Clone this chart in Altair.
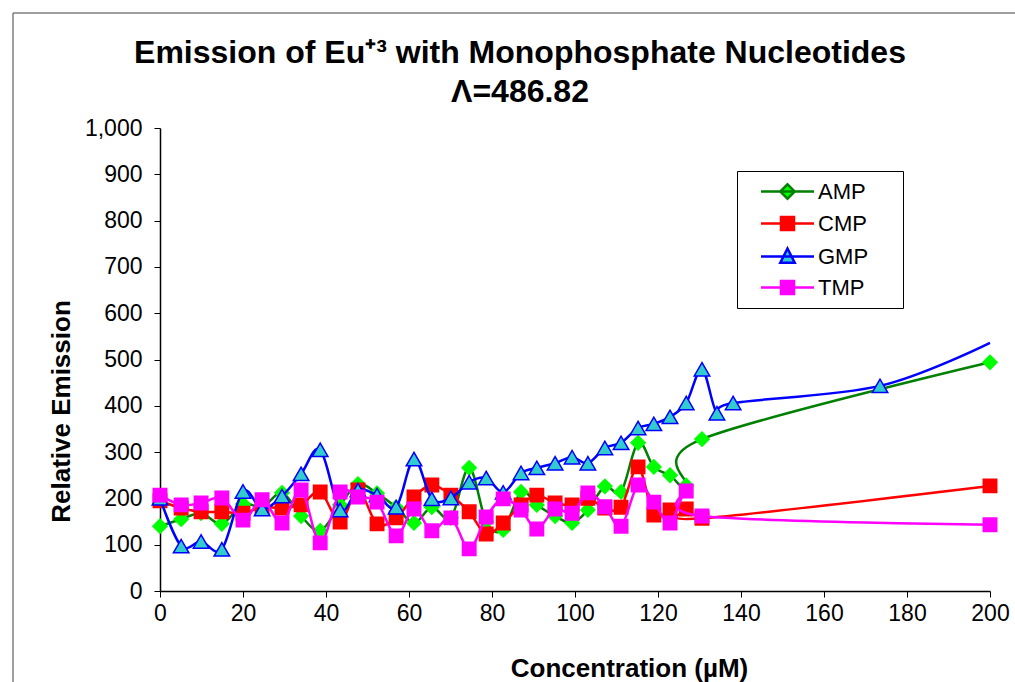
import altair as alt
import pandas as pd

# Concentration (uM) of each measurement
conc = [0, 5.1, 9.9, 14.9, 20.0, 24.6, 29.4, 34.0, 38.6, 43.4, 47.7, 52.3, 56.9, 61.2,
        65.5, 70.1, 74.5, 78.6, 82.7, 87.0, 90.8, 95.2, 99.3, 103.1, 107.2, 111.1, 115.2,
        119.0, 122.9, 126.8, 130.6, 134.2, 138.1, 173.5, 200.0]

amp = [140, 155, 168, 145, 188, 181, 212, 162, 130, 186, 231, 211, 181, 147,
       181, 158, 266, 150, 132, 214, 186, 162, 147, 175, 226, 214, 320,
       268, 250, 228, 328, None, None, None, 494]
cmp_ = [195, 179, 171, 171, 168, 181, 179, 186, 214, 149, 218, 145, 158, 203,
        229, 207, 171, 123, 147, 186, 207, 190, 186, 200, 179, 181, 268,
        164, 175, 177, 157, None, None, None, 227]
gmp = [200, 97, 107, 90, 215, 177, 205, 253, 305, 175, 218, 207, 181, 285,
       199, 201, 235, 244, 213, 255, 266, 276, 289, 276, 309, 320, 352,
       361, 376, 406, 479, 384, 406, 443, 536]
tmp = [207, 186, 190, 201, 153, 197, 147, 218, 104, 214, 203, 192, 119, 177,
       130, 158, 91, 160, 199, 175, 134, 177, 168, 212, 182, 140, 229,
       192, 147, 216, 162, None, None, None, 143]
# GMP's last value carries a line but no marker in the original
gmp_marker = [True] * 34 + [False]

x_ticks = list(range(0, 201, 20))
y_ticks = list(range(0, 1001, 100))

series_names = ["AMP", "CMP", "GMP", "TMP"]
line_colors = ["#008000", "#FF0000", "#0000FF", "#FF00FF"]
fill_colors = ["#00FF00", "#FF0000", "#33CCCC", "#FF00FF"]
marker_strokes = ["#00FF00", "#FF0000", "#0000FF", "#FF00FF"]
shapes = ["diamond", "square", "triangle-up", "square"]
sizes = [200, 180, 240, 180]
# legend symbols: line segment with the series marker in its middle (unit = 10 px)
legend_paths = [
    "M-2.65,0L2.65,0M0,-0.72L0.72,0L0,0.72L-0.72,0Z",
    "M-2.65,0L2.65,0M-0.65,-0.65L0.65,-0.65L0.65,0.65L-0.65,0.65Z",
    "M-2.65,0L2.65,0M0,-0.8L0.72,0.62L-0.72,0.62Z",
    "M-2.65,0L2.65,0M-0.65,-0.65L0.65,-0.65L0.65,0.65L-0.65,0.65Z",
]

rows = []
for name, vals in zip(series_names, [amp, cmp_, gmp, tmp]):
    for i, (c, v) in enumerate(zip(conc, vals)):
        if v is None:
            continue
        mk = gmp_marker[i] if name == "GMP" else True
        rows.append({"conc": c, "value": v, "series": name, "marker": mk})
df = pd.DataFrame(rows)

FONT = "Liberation Sans"

x_enc = alt.X("conc:Q", title="Concentration (µM)",
              scale=alt.Scale(domain=[0, 200], nice=False),
              axis=alt.Axis(values=x_ticks, grid=False, labelFlush=False,
                            titleX=469, titleAlign="center"))
y_enc = alt.Y("value:Q", title="Relative Emission",
              scale=alt.Scale(domain=[0, 1000], nice=False),
              axis=alt.Axis(values=y_ticks, labelExpr="format(datum.value, ',')", grid=False,
                            labelFlush=False, titleY=283, titleAlign="center"))

base = alt.Chart(df)
layers = []
for name, lc, fc, sc, shp, sz in zip(series_names, line_colors, fill_colors,
                                     marker_strokes, shapes, sizes):
    sub = base.transform_filter(alt.datum.series == name)
    layers.append(
        sub.mark_line(interpolate="cardinal", strokeWidth=2.5, color=lc)
        .encode(x=x_enc, y=y_enc, order="conc:Q")
    )
    layers.append(
        sub.transform_filter(alt.datum.marker)
        .mark_point(filled=True, shape=shp, size=sz, fill=fc, stroke=sc,
                    strokeWidth=1.5, opacity=1)
        .encode(x=x_enc, y=y_enc)
    )

legend_layer = (
    base.transform_filter("false")
    .mark_point(filled=True, opacity=1)
    .encode(
        x=x_enc, y=y_enc,
        shape=alt.Shape("series:N",
                        scale=alt.Scale(domain=series_names, range=legend_paths),
                        legend=alt.Legend(
                            title="\u00a0", titleOrient="right", titlePadding=26,
                            titleFontSize=10,
                            orient="none", legendX=577, legendY=43,
                            fillColor="white", strokeColor="black", padding=9,
                            symbolSize=400, symbolStrokeWidth=2.5, symbolOffset=30,
                            labelFont=FONT, labelFontSize=22, labelColor="black",
                            labelOffset=19, rowPadding=8)),
        fill=alt.Fill("series:N", scale=alt.Scale(domain=series_names, range=fill_colors)),
        stroke=alt.Stroke("series:N", scale=alt.Scale(domain=series_names, range=line_colors)),
    )
)

# outer frame of the chart area (top and left edges visible in the original)
one = alt.Chart(pd.DataFrame({"k": [0]}))
frame_top = one.mark_rule(color="#7f7f7f", strokeWidth=1.5).encode(
    x=alt.value(-147), x2=alt.value(880), y=alt.value(-115))
frame_left = one.mark_rule(color="#7f7f7f", strokeWidth=1.5).encode(
    x=alt.value(-147), y=alt.value(-115), y2=alt.value(560))

chart = (
    alt.layer(frame_top, frame_left, *layers, legend_layer)
    .properties(
        width=830, height=463,
        background="white",
        autosize=alt.AutoSizeParams(type="none"),
        padding={"left": 160, "top": 128, "right": 25, "bottom": 91},
        title=alt.Title(["Emission of Eu⁺³ with Monophosphate Nucleotides", "Λ=486.82"],
                        font=FONT, fontSize=32, fontWeight="bold", color="black",
                        anchor="middle", frame="group", dx=-55, offset=-97,
                        lineHeight=39),
    )
    .configure_view(stroke=None)
    .configure_axis(labelFont=FONT, labelFontSize=23, labelColor="black",
                    titleFont=FONT, titleFontSize=26, titleFontWeight="bold",
                    titleColor="black", domainColor="black", tickColor="black",
                    tickSize=6, domainWidth=1.5)
    .configure_axisX(titlePadding=30, labelPadding=5)
    .configure_axisY(titlePadding=10, labelPadding=12)
)

chart.save("out.html", embed_options={"renderer": "svg", "actions": False})
